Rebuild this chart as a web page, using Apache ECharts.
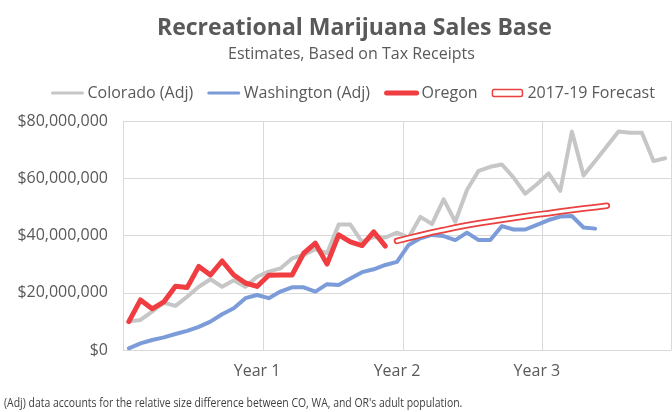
<!DOCTYPE html>
<html>
<head>
<meta charset="utf-8">
<script src="https://cdn.jsdelivr.net/npm/echarts@6/dist/echarts.min.js"></script>
<style>
html,body{margin:0;padding:0;background:#fff;}
#chart{width:672px;height:412px;}
</style>
</head>
<body>
<div id="chart"></div>
<script>
// Months since legal sales began (category axis)
const months = ['M1','M2','M3','M4','M5','M6','M7','M8','M9','M10','M11','M12',
  'M13','M14','M15','M16','M17','M18','M19','M20','M21','M22','M23','M24',
  'M25','M26','M27','M28','M29','M30','M31','M32','M33','M34','M35','M36',
  'M37','M38','M39','M40','M41','M42','M43','M44','M45','M46','M47'];

// Category-axis tick labels (index into months)
const yearTickIndex = [11, 23, 35];
const yearTickLabels = ['Year 1', 'Year 2', 'Year 3'];

// Values in millions of dollars
const colorado = [10, 10.5, 13.4, 16.5, 15.4, 18.6, 22.1, 24.7, 22.1, 24.4, 22.1, 25.6,
  27.4, 28.5, 32, 33.2, 35.2, 33.8, 43.8, 43.8, 37.8, 39.5, 39.3, 41,
  39.3, 46.5, 44, 52.6, 44.8, 55.9, 62.6, 64, 64.8, 60.2, 54.6, 57.9,
  61.7, 55.6, 76.3, 61, 66, 71.2, 76.3, 75.9, 75.9, 66, 67];

const washington = [0.6, 2.3, 3.5, 4.4, 5.6, 6.7, 8.1, 9.9, 12.5, 14.6, 18.1, 19.2,
  18.1, 20.4, 21.9, 21.9, 20.4, 23, 22.7, 25, 27.2, 28.2, 29.7, 30.8,
  36.7, 39, 40.2, 39.8, 38.4, 41, 38.4, 38.4, 43.3, 42.1, 42.1, 43.7,
  45.4, 46.6, 46.8, 42.8, 42.4];

const oregon = [9.9, 17.5, 14.4, 16.8, 22.3, 21.8, 29.2, 26.2, 31.1, 26.2, 23.4, 22.2,
  26.1, 26.2, 26.2, 33.8, 37.3, 30.0, 40.2, 37.8, 36.5, 41.3, 36.3];

const forecast = [null, null, null, null, null, null, null, null, null, null, null, null,
  null, null, null, null, null, null, null, null, null, null, null, 38.1,
  39.1, 40.1, 41.1, 41.9, 42.8, 43.6, 44.3, 44.9, 45.5, 46.1, 46.7, 47.3,
  47.8, 48.4, 48.9, 49.4, 49.9, 50.4];

const FONT = '"Open Sans", sans-serif';
const TXT = '#595959';
const GRID = '#d9d9d9';
const C_CO = '#c6c6c6';
const C_WA = '#7b9cd9';
const C_OR = '#ef3d41';
const C_FC = '#e8413f';

const chart = echarts.init(document.getElementById('chart'), null, {renderer: 'canvas'});

const lineBase = {
  type: 'line',
  symbol: 'none',
  showSymbol: false,
  connectNulls: false,
  animation: false
};

chart.setOption({
  backgroundColor: '#fff',
  animation: false,
  title: [
    {
      text: 'Recreational Marijuana Sales Base',
      left: 157, top: 17, padding: 0,
      textStyle: {fontFamily: FONT, fontWeight: 'bold', fontSize: 23, color: TXT}
    },
    {
      text: 'Estimates, Based on Tax Receipts',
      left: 228, top: 46, padding: 0,
      textStyle: {fontFamily: FONT, fontWeight: 'normal', fontSize: 16, color: TXT}
    }
  ],
  legend: {
    left: 51, top: 85, padding: 0,
    itemWidth: 30, itemHeight: 7, itemGap: 14,
    symbolKeepAspect: false,
    textStyle: {fontFamily: FONT, fontSize: 16, color: TXT},
    data: [
      {name: 'Colorado (Adj)', itemStyle: {opacity: 0}, lineStyle: {width: 3, color: C_CO}},
      {name: 'Washington (Adj)', itemStyle: {opacity: 0}, lineStyle: {width: 3, color: C_WA}},
      {name: 'Oregon', itemStyle: {opacity: 0}, lineStyle: {width: 5, color: C_OR}},
      {name: '2017-19 Forecast', icon: 'roundRect',
        itemStyle: {color: '#fff', borderColor: C_FC, borderWidth: 1.5, opacity: 1}}
    ]
  },
  grid: {left: 123, right: 1, top: 121, bottom: 62, containLabel: false},
  xAxis: {
    type: 'category',
    data: months,
    boundaryGap: true,
    axisLine: {show: true, lineStyle: {color: GRID, width: 1}},
    axisTick: {show: false, interval: function (i) { return i % 12 === 0; }},
    axisLabel: {
      interval: function (i) { return yearTickIndex.indexOf(i) > -1; },
      formatter: function (v, i) {
        const k = yearTickIndex.indexOf(i);
        return k > -1 ? yearTickLabels[k] : '';
      },
      color: TXT, fontFamily: FONT, fontSize: 16, margin: 13
    },
    splitLine: {
      show: true,
      interval: function (i) { return i % 12 === 0; },
      lineStyle: {color: GRID, width: 1}
    }
  },
  yAxis: {
    type: 'value',
    min: 0, max: 80, interval: 20,
    axisLine: {show: false},
    axisTick: {show: false},
    axisLabel: {
      formatter: function (v) { return '$' + (v * 1000000).toLocaleString('en-US'); },
      color: TXT, fontFamily: FONT, fontSize: 16, margin: 15
    },
    splitLine: {show: true, lineStyle: {color: GRID, width: 1}}
  },
  series: [
    Object.assign({}, lineBase, {
      name: 'Colorado (Adj)', data: colorado, color: C_CO,
      lineStyle: {color: C_CO, width: 4, cap: 'round', join: 'round'}
    }),
    Object.assign({}, lineBase, {
      name: 'Washington (Adj)', data: washington, color: C_WA,
      lineStyle: {color: C_WA, width: 4, cap: 'round', join: 'round'}
    }),
    Object.assign({}, lineBase, {
      name: 'Oregon', data: oregon, color: C_OR,
      lineStyle: {color: C_OR, width: 5, cap: 'round', join: 'round'}
    }),
    Object.assign({}, lineBase, {
      name: '2017-19 Forecast', data: forecast, color: C_FC,
      lineStyle: {color: C_FC, width: 6.5, cap: 'round', join: 'round'}
    }),
    Object.assign({}, lineBase, {
      name: 'Forecast (centre)', data: forecast, color: '#fff',
      lineStyle: {color: '#ffffff', width: 3, cap: 'round', join: 'round'},
      silent: true
    })
  ],
  graphic: [
    {
      type: 'text',
      left: 4, top: 398,
      scaleX: 0.87,
      style: {
        text: "(Adj) data accounts for the relative size difference between CO, WA, and OR's adult population.",
        fill: '#404040',
        font: '12px "Open Sans", sans-serif'
      }
    }
  ]
});
</script>
</body>
</html>
